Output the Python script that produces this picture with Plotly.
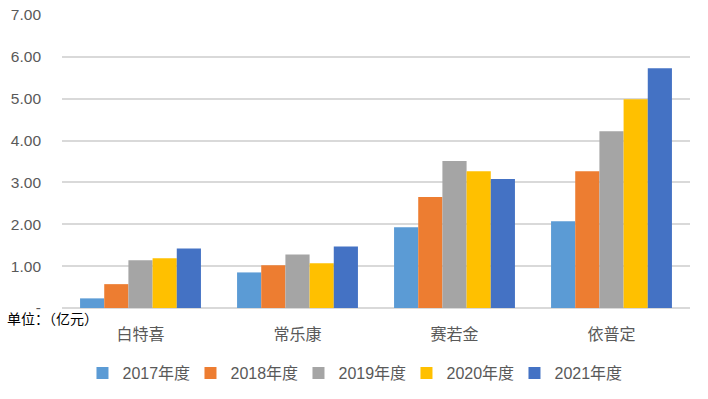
import plotly.graph_objects as go

categories = ["白特喜", "常乐康", "赛若金", "依普定"]
series_names = ["2017年度", "2018年度", "2019年度", "2020年度", "2021年度"]
v2017 = [0.23, 0.85, 1.93, 2.07]
v2018 = [0.57, 1.02, 2.65, 3.27]
v2019 = [1.14, 1.28, 3.51, 4.22]
v2020 = [1.19, 1.07, 3.27, 4.99]
v2021 = [1.42, 1.47, 3.08, 5.73]
tick_vals = [0, 1, 2, 3, 4, 5, 6, 7]
tick_text = ["-", "1.00", "2.00", "3.00", "4.00", "5.00", "6.00", "7.00"]

colors = ["#5B9BD5", "#ED7D31", "#A5A5A5", "#FFC000", "#4472C4"]
values = [v2017, v2018, v2019, v2020, v2021]

fig = go.Figure()
for name, vals, c in zip(series_names, values, colors):
    fig.add_trace(go.Bar(x=categories, y=vals, name=name, marker=dict(color=c, line=dict(width=0))))

font_txt = "Liberation Sans, Noto Sans CJK SC, sans-serif"
fig.update_layout(
    width=708, height=399,
    margin=dict(l=62, r=18, t=15, b=91, autoexpand=False),
    plot_bgcolor="white", paper_bgcolor="white",
    barmode="group", bargap=0.23, bargroupgap=0,
    font=dict(family=font_txt, color="#595959", size=14),
    xaxis=dict(showgrid=False, showline=False, ticks="", automargin=False,
               tickfont=dict(size=16, family="Noto Sans CJK SC"), ticklabelstandoff=15),
    yaxis=dict(range=[0, 7], tickvals=tick_vals, ticktext=tick_text, showgrid=True, automargin=False,
               gridcolor="#D9D9D9", gridwidth=1.5, zeroline=True, zerolinecolor="#D9D9D9", zerolinewidth=1.5,
               showline=False, ticks="", tickfont=dict(size=15.5), ticklabelstandoff=20),
    legend=dict(orientation="h", x=0.1165, xanchor="left", xref="container", y=0.065, yanchor="middle",
                yref="container", font=dict(size=16, family=font_txt), itemwidth=30, traceorder="normal",
                itemsizing="constant", entrywidth=63, entrywidthmode="pixels"),
    showlegend=True,
)
fig.add_annotation(text="单位：（亿元）", xref="paper", yref="paper", x=-0.0908, y=-0.034, xanchor="left", yanchor="middle",
                   showarrow=False, font=dict(size=14, color="#000000", family="Noto Sans CJK SC"))
fig.write_html("out.html", post_script="document.body.style.margin='0';", config={"displayModeBar": False})
